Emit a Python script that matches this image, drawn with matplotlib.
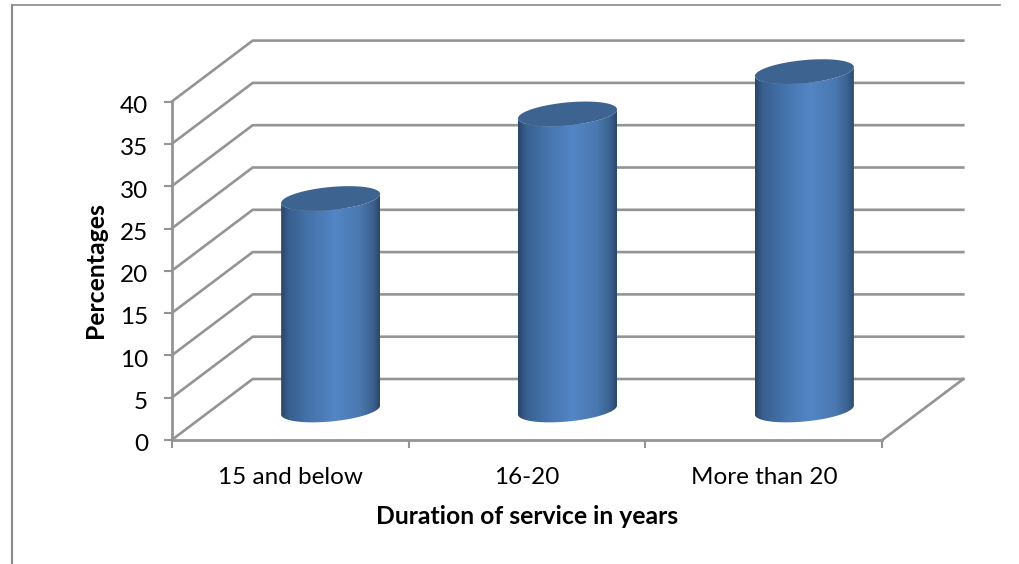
import matplotlib
matplotlib.use("Agg")
import numpy as np
import matplotlib.pyplot as plt
from matplotlib.colors import LinearSegmentedColormap
from matplotlib.path import Path
from matplotlib.patches import PathPatch
from matplotlib.transforms import ScaledTranslation

categories = ["15 and below", "16-20", "More than 20"]
values = [25, 35, 40]
y_ticks = [0, 5, 10, 15, 20, 25, 30, 35, 40]
x_label = "Duration of service in years"
y_label = "Percentages"

plt.rcParams["font.family"] = ["Lato", "DejaVu Sans"]
W, H = 1020, 564
GRAY = "#949494"
fig = plt.figure(figsize=(W / 100, H / 100), dpi=100, facecolor="white")

fig.add_artist(plt.Line2D([12.5 / W, 12.5 / W], [0, 1 - 5 / H], color="#8a8a8a", lw=1.5))
fig.add_artist(plt.Line2D([12 / W, 1000 / W], [1 - 5 / H, 1 - 5 / H], color="#8a8a8a", lw=1.2))

PX_X = 710.6 / 3
PX_Y = 338.4 / 40
dx, dy = 81 / PX_X, 61 / PX_Y
ax = fig.add_axes([171.7 / W, (H - 440) / H, (710.6 + 81) / W, (338.4 + 61) / H])
ax.set_xlim(0, 3 + dx)
ax.set_ylim(0, 40 + dy)
ax.patch.set_visible(False)
for s in ("top", "right"):
    ax.spines[s].set_visible(False)
for s in ("left", "bottom"):
    ax.spines[s].set_color(GRAY)
    ax.spines[s].set_linewidth(2.0)
ax.spines["left"].set_bounds(0, 40)
ax.spines["bottom"].set_bounds(0, 3)

for t in y_ticks:
    ax.plot([0, dx, 3 + dx], [t, t + dy, t + dy], color=GRAY, lw=1.9, clip_on=False,
            solid_joinstyle="miter", zorder=1)
ax.plot([3, 3 + dx], [0, dy], color=GRAY, lw=1.9, clip_on=False, zorder=1)

ax.set_xticks(range(4))
ax.set_xticklabels([])
ax.set_xticks([i + 0.5 for i in range(3)], minor=True)
ax.set_xticklabels(categories, minor=True, fontsize=17.5, color="black")
ax.tick_params(axis="x", which="major", length=5.8, width=1.5, color=GRAY)
ax.tick_params(axis="x", which="minor", length=0, pad=19.7)
ax.set_yticks(y_ticks)
ax.set_yticklabels([str(t) for t in y_ticks], fontsize=17.5, color="black", va="center")
ax.tick_params(axis="y", length=6, width=1.5, color=GRAY, pad=11)
shift = ScaledTranslation(0, -3.5 / 72, fig.dpi_scale_trans)
for lab in ax.get_yticklabels():
    lab.set_transform(lab.get_transform() + shift)

fig.text(527 / W, 1 - 517 / H, x_label, fontsize=17.8, fontweight="bold", ha="center", va="center")
fig.text(96 / W, 1 - 270 / H, y_label, fontsize=17.8, fontweight="bold", rotation=90, ha="center", va="center")

cmap = LinearSegmentedColormap.from_list("cyl", [
    (0.0, "#2b4568"), (0.08, "#38608f"), (0.30, "#4674ad"), (0.55, "#5386c6"),
    (0.80, "#4a78b0"), (0.93, "#3b6190"), (1.0, "#2c4768")])
half_w = 49.5 / PX_X
b = 11.5 / PX_Y
shear = 4.5 / PX_Y
tt = np.linspace(0, 2 * np.pi, 181)
base = 30 / PX_Y
grad = np.linspace(0, 1, 256).reshape(1, -1)

def ell(cx, cy, t):
    return cx + half_w * np.cos(t), cy + b * np.sin(t) + shear * np.cos(t)

for i, v in enumerate(values):
    cx = i + 0.5 + dx / 2
    top, bot = base + v, base
    t1 = np.linspace(np.pi, 2 * np.pi, 91)
    xb, yb = ell(cx, bot, t1)
    xt, yt = ell(cx, top, t1[::-1])
    verts = np.r_[np.c_[xb, yb], np.c_[xt, yt], [[xb[0], yb[0]]]]
    path = Path(verts, closed=True)
    clip = PathPatch(path, transform=ax.transData, fc="none", ec="none")
    ax.add_patch(clip)
    im = ax.imshow(grad, cmap=cmap, aspect="auto", vmin=0, vmax=1,
                   extent=[cx - half_w, cx + half_w, bot - 2 * b, top + 2 * b],
                   zorder=3, interpolation="bilinear")
    im.set_clip_path(clip)
    xe, ye = ell(cx, top, tt)
    ax.fill(xe, ye, color="#3d6390", lw=0, zorder=4)

ax.set_xlim(0, 3 + dx)
ax.set_ylim(0, 40 + dy)
fig.savefig("out.png", dpi=100)
